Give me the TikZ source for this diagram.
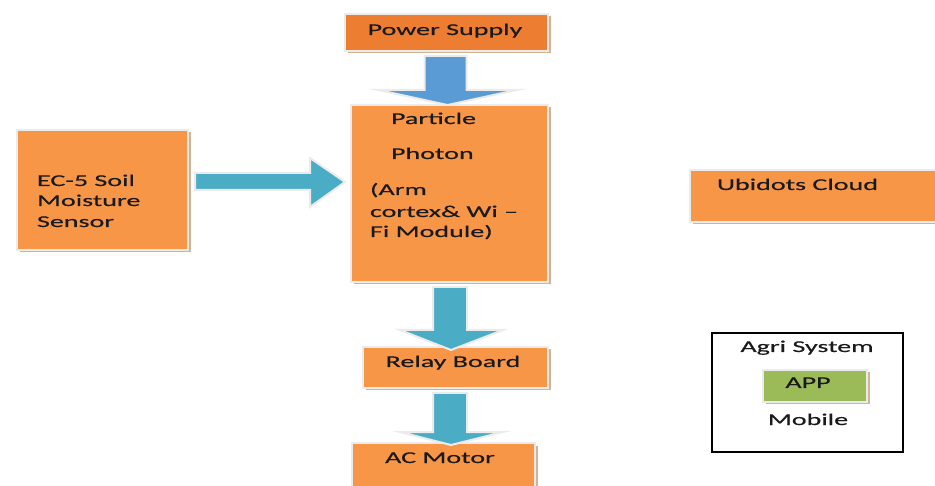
\documentclass[tikz,border=0pt]{standalone}
\usepackage{fontspec}
\setmainfont{Carlito}[FakeStretch=1.7,FakeBold=0.4]
\usetikzlibrary{calc,shadows}
\definecolor{orgA}{HTML}{F79646}
\definecolor{orgB}{HTML}{ED7D31}
\definecolor{blueA}{HTML}{5B9BD5}
\definecolor{tealA}{HTML}{4BACC6}
\definecolor{greenA}{HTML}{9BBB59}
\definecolor{shadowc}{HTML}{D2B396}
\definecolor{glow}{HTML}{EBEBEB}
\definecolor{txtc}{HTML}{1A1A1A}
\begin{document}
\begin{tikzpicture}[x=1pt,y=-1pt,
  box/.style={draw=glow, line width=2.5pt, fill=orgA, inner sep=0pt, outer sep=0pt,
    anchor=north west,
    drop shadow={shadow xshift=2.5pt, shadow yshift=-2.5pt, fill=shadowc, opacity=1}},
  txt/.style={font=\fontsize{16.5}{19.5}\selectfont, text=txtc, inner sep=0pt, outer sep=0pt},
  barrow/.style={draw=glow, line width=2pt, line join=miter}
]
\useasboundingbox (0,0) rectangle (935,486);
\clip (0,0) rectangle (935,486);

% boxes
\node[box, fill=orgB, minimum width=203pt, minimum height=37pt] (ps) at (345,14) {};
\node[box, minimum width=197pt, minimum height=177pt] (ph) at (351,105) {};
\node[box, minimum width=171pt, minimum height=120pt] (sen) at (17,130) {};
\node[box, minimum width=185pt, minimum height=41pt] (rel) at (363,347) {};
\node[box, minimum width=183pt, minimum height=60pt] (ac) at (352,443) {};
\node[box, minimum width=260pt, minimum height=52pt] (ubi) at (690,170) {};
\node[draw=black, line width=1.2pt, fill=white, inner sep=0pt, outer sep=0pt, anchor=north west,
  minimum width=191pt, minimum height=119pt] (agri) at (712,333) {};
\node[box, fill=greenA, line width=2pt, minimum width=104pt, minimum height=32pt] (app) at (763,370) {};

% texts
\node[txt, anchor=base] (tps) at (445,35) {Power Supply};
\node[txt, anchor=base west] (tph1) at (391,124) {Particle};
\node[txt, anchor=base west] (tph2) at (391,159) {Photon};
\node[txt, anchor=base west] (tph3) at (370,195) {(Arm};
\node[txt, anchor=base west] (tph4) at (370,217) {cortex\& Wi –};
\node[txt, anchor=base west] (tph5) at (370,237) {Fi Module)};
\node[txt, anchor=base west] (ts1) at (37,186) {EC-5 Soil};
\node[txt, anchor=base west] (ts2) at (37,206) {Moisture};
\node[txt, anchor=base west] (ts3) at (37,227) {Sensor};
\node[txt, anchor=base] (trel) at (453,367) {Relay Board};
\node[txt, anchor=base] (tac) at (440,463) {AC Motor};
\node[txt, anchor=base west] (tubi) at (717,190) {Ubidots Cloud};
\node[txt, anchor=base] (tagri) at (807,352) {Agri System};
\node[txt, anchor=base] (tapp) at (808,388) {APP};
\node[txt, anchor=base] (tmob) at (808,425) {Mobile};

% block arrows
% power supply -> photon
\draw[barrow, fill=blueA]
  ($(ps.south)+(-22,5)$) -- ($(ps.south)+(20,5)$) -- ($(ps.south)+(20,39)$)
  -- ($(ps.south)+(70,39)$) -- ($(ph.north)+(-2,0)$) -- ($(ps.south)+(-68,39)$)
  -- ($(ps.south)+(-22,39)$) -- cycle;
% sensor -> photon
\draw[barrow, fill=tealA]
  ($(sen.east)+(7,-17)$) -- ($(sen.east)+(122,-17)$) -- ($(sen.east)+(122,-32)$)
  -- ($(ph.west |- sen.east)+(-6,-8)$) -- ($(sen.east)+(122,17)$)
  -- ($(sen.east)+(122,0)$) -- ($(sen.east)+(7,0)$) -- cycle;
% photon -> relay
\coordinate (c3) at ($(ph.south)+(0.5,0)$);
\draw[barrow, fill=tealA]
  ($(c3)+(-17,5)$) -- ($(c3)+(17,5)$) -- ($(c3)+(17,48)$) -- ($(c3)+(53,48)$)
  -- ($(c3 |- rel.north)+(1,3)$) -- ($(c3)+(-50,48)$) -- ($(c3)+(-17,48)$) -- cycle;
% relay -> ac motor
\coordinate (c4) at ($(rel.south)+(-5.5,0)$);
\draw[barrow, fill=tealA]
  ($(c4)+(-17,5)$) -- ($(c4)+(17,5)$) -- ($(c4)+(17,44)$) -- ($(c4)+(53,44)$)
  -- ($(c4 |- ac.north)+(1,2)$) -- ($(c4)+(-50,44)$) -- ($(c4)+(-17,44)$) -- cycle;
\end{tikzpicture}
\end{document}
